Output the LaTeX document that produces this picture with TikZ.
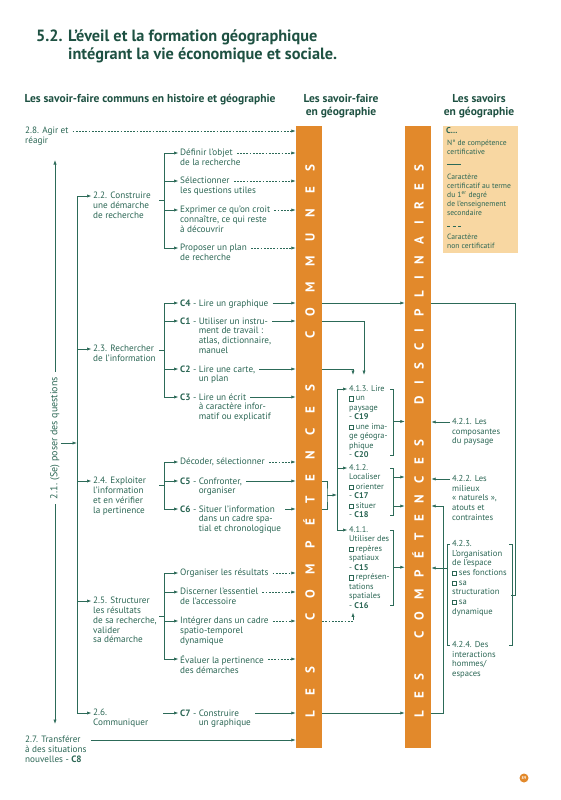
\documentclass[tikz,border=0pt]{standalone}
\usepackage{fontspec}
\setmainfont{PT Sans}
\usetikzlibrary{arrows.meta, calc}

\definecolor{gtext}{HTML}{2B6654}
\definecolor{gtitle}{HTML}{1E5142}
\definecolor{gline}{HTML}{2C6A58}
\definecolor{orng}{HTML}{E2892B}
\definecolor{peach}{HTML}{F8D7A2}

% C number followed by its aligned lines
\newcommand{\citem}[2]{\textbf{#1} - \begin{tabular}[t]{@{}l@{}}#2\end{tabular}}
% small check box
\newcommand{\sqb}{\raisebox{0.1pt}{\setlength{\fboxsep}{0pt}\setlength{\fboxrule}{0.35pt}\fbox{\rule{0pt}{3.8pt}\rule{3.8pt}{0pt}}}\hspace{2.2pt}}

\begin{document}
\begin{tikzpicture}[x=1pt, y=-1pt,
    txt/.style={anchor=north west, align=left, inner sep=0pt, text=gtext, font=\fontsize{9.2}{9.8}\selectfont},
    rtxt/.style={txt, font=\fontsize{8.6}{9.7}\selectfont},
    sm/.style={txt, font=\fontsize{8.3}{9.5}\selectfont},
    lgtxt/.style={txt, font=\fontsize{7.6}{9}\selectfont},
    hdr/.style={align=center, inner sep=0pt, text=gtitle, font=\fontsize{11.5}{12.5}\selectfont\bfseries},
    cbar/.style={fill=orng, minimum width=26pt, minimum height=622pt, inner sep=0pt},
    bartxt/.style={rotate=90, inner sep=0pt, text=white, font=\fontsize{13}{14}\selectfont\bfseries},
    legbox/.style={fill=peach, minimum width=75pt, minimum height=127pt, inner sep=0pt},
    ln/.style={draw=gline, line width=0.7pt},
    arr/.style={ln, -{Latex[length=4.5pt,width=3.2pt]}},
    darr/.style={arr, dash pattern=on 1.8pt off 1.4pt}
  ]
  \useasboundingbox (0,0) rectangle (560,800);

  % Title and column headers
  \node[anchor=north west, inner sep=0pt, text=gtitle, font=\fontsize{16.3}{18}\selectfont\bfseries] (title) at (36,29)
    {\begin{tabular}{@{}l@{ }l@{}}5.2. & L’éveil et la formation géographique\\ & intégrant la vie économique et sociale.\end{tabular}};
  \node[hdr] (hdcom) at (150,100) {Les savoir-faire communs en histoire et géographie};
  \node[hdr] (hdsf) at (341,106) {Les savoir-faire\\en géographie};
  \node[hdr] (hdsav) at (479,106) {Les savoirs\\en géographie};

  % Orange bars
  \node[cbar] (bar1) at (309,437) {};
  \node[cbar] (bar2) at (418,437) {};
  \node[bartxt] (bar1lbl) at (309,441) {\makebox[552pt][s]{L\hfil E\hfil S\hfil\hfil\hfil C\hfil O\hfil M\hfil P\hfil É\hfil T\hfil E\hfil N\hfil C\hfil E\hfil S\hfil\hfil\hfil C\hfil O\hfil M\hfil M\hfil U\hfil N\hfil E\hfil S}};
  \node[bartxt] (bar2lbl) at (418,441) {\makebox[552pt][s]{L\hfil E\hfil S\hfil\hfil\hfil C\hfil O\hfil M\hfil P\hfil É\hfil T\hfil E\hfil N\hfil C\hfil E\hfil S\hfil\hfil\hfil D\hfil I\hfil S\hfil C\hfil I\hfil P\hfil L\hfil I\hfil N\hfil A\hfil I\hfil R\hfil E\hfil S}};

  % Legend
  \node[legbox] (legend) at (480.5,189.5) {};
  \node[txt, font=\fontsize{8.5}{9.8}\selectfont\bfseries] (lgc) at (446,127) {C...};
  \node[lgtxt] (lgn) at (447,140) {N° de compétence\\certificative};
  \node[lgtxt] (lgs) at (447,174) {Caractère\\certificatif au terme\\du 1\textsuperscript{er} degré\\de l’enseignement\\secondaire};
  \node[lgtxt] (lgd) at (447,234) {Caractère\\non certificatif};
  \draw[gline, line width=1pt] ([yshift=-10pt]lgn.south west) -- ++(14,0);
  \draw[gline, line width=1pt, dash pattern=on 3pt off 2.5pt] ([yshift=-11pt]lgs.south west) -- ++(14,0);

  % Left column: savoir-faire communs
  \node[txt] (a28) at (25,127) {2.8. Agir et\\réagir};
  \node[txt, anchor=center, rotate=90, inner xsep=5pt, inner ysep=1pt, font=\fontsize{10}{11}\selectfont] (a21) at (55,438) {2.1. (Se) poser des questions};
  \node[txt] (a22) at (93,192) {2.2. Construire\\une démarche\\de recherche};
  \node[txt] (a23) at (93,345) {2.3. Rechercher\\de l’information};
  \node[txt] (a24) at (93,477) {2.4. Exploiter\\l’information\\et en vérifier\\la pertinence};
  \node[txt] (a25) at (93,597) {2.5. Structurer\\les résultats\\de sa recherche,\\valider\\sa démarche};
  \node[txt] (a26) at (93,709) {2.6.\\Communiquer};
  \node[txt] (a27) at (25,736) {2.7. Transférer\\à des situations\\nouvelles - \textbf{C8}};

  % Sub-items
  \node[txt] (s1) at (180,149) {Définir l’objet\\\rlap{de la recherche}};
  \node[txt] (s2) at (180,177) {Sélectionner\\\rlap{les questions utiles}};
  \node[txt] (s3) at (180,206) {Exprimer ce qu’on croit\\connaître, ce qui reste\\à découvrir};
  \node[txt] (s4) at (180,244) {Proposer un plan\\de recherche};
  \node[txt] (c4) at (180,299) {\citem{C4}{Lire un graphique}};
  \node[txt] (c1) at (180,317) {\citem{C1}{Utiliser un instru-\\\rlap{ment de travail :}\\\rlap{atlas, dictionnaire,}\\\rlap{manuel}}};
  \node[txt] (c2) at (180,365) {\citem{C2}{Lire une carte,\\un plan}};
  \node[txt] (c3) at (180,393) {\citem{C3}{Lire un écrit\\\rlap{à caractère infor-}\\\rlap{matif ou explicatif}}};
  \node[txt] (dec) at (180,458) {Décoder, sélectionner};
  \node[txt] (c5) at (180,477) {\citem{C5}{Confronter,\\organiser}};
  \node[txt] (c6) at (180,505) {\citem{C6}{Situer l’information\\dans un cadre spa-\\tial et chronologique}};
  \node[txt] (org) at (180,569) {Organiser les résultats};
  \node[txt] (dis) at (180,588) {Discerner l’essentiel\\de l’accessoire};
  \node[txt] (integ) at (180,617) {Intégrer dans un cadre\\spatio-temporel\\dynamique};
  \node[txt] (eval) at (180,655) {Évaluer la pertinence\\des démarches};
  \node[txt] (c7) at (180,709) {\citem{C7}{Construire\\un graphique}};

  % Savoir-faire en géographie
  \node[sm] (g413) at (349,385) {4.1.3. Lire\\\sqb un\\paysage\\- \textbf{C19}\\\sqb une ima-\\ge géogra-\\phique\\- \textbf{C20}};
  \node[sm] (g412) at (349,464) {4.1.2.\\Localiser\\\sqb orienter\\- \textbf{C17}\\\sqb situer\\- \textbf{C18}};
  \node[sm] (g411) at (349,526) {4.1.1.\\Utiliser des\\\sqb repères\\spatiaux\\- \textbf{C15}\\\sqb représen-\\tations\\spatiales\\- \textbf{C16}};

  % Savoirs en géographie
  \node[rtxt] (r421) at (452,418) {4.2.1. Les\\composantes\\du paysage};
  \node[rtxt] (r422) at (452,475) {4.2.2. Les\\milieux\\«~naturels~»,\\atouts et\\contraintes};
  \node[rtxt] (r423) at (452,540) {4.2.3.\\L’organisation\\de l’espace\\\sqb ses fonctions\\\sqb sa\\structuration\\\sqb sa\\dynamique};
  \node[rtxt] (r424) at (452,641) {4.2.4. Des\\interactions\\hommes/\\espaces};

  % Guide coordinates
  \coordinate (spine) at (77,0);
  \coordinate (brk) at (164,0);
  \coordinate (lb) at (337,0);
  \coordinate (rb) at (393,0);
  \coordinate (lb2) at (447,0);
  \coordinate (rb2) at (512,0);
  \coordinate (k422) at (443,0);
  \coordinate (k56) at (327,495);
  \coordinate (rr) at (515,595);
  \coordinate (q21top) at (55,160);
  \coordinate (q21bot) at (55,724);
  \coordinate (t1) at ([xshift=15pt,yshift=10pt]g413.north west);
  \coordinate (t2) at ([xshift=4pt,yshift=10pt]g413.north west);
  \coordinate (t3) at ([xshift=4pt,yshift=-4pt]g411.south west);

  % 2.1 line
  \draw[arr] (a21.east) -- (q21top);
  \draw[arr] (a21.west) -- (q21bot);
  \draw[arr] ([yshift=-5pt]a21.south) -- ([yshift=-5pt]a21.south -| spine);

  % Spine to 2.2 ... 2.6
  \draw[ln] ([yshift=-4pt]a22.north west -| spine) -- ([yshift=-4pt]a26.north west -| spine);
  \foreach \n in {a22,a23,a24,a25,a26}
    \draw[arr] ([yshift=-4pt]\n.north west -| spine) -- ([xshift=-1.5pt,yshift=-4pt]\n.north west);

  % Brackets to sub-items
  \foreach \t/\b in {s1/s4, c4/c3, dec/c6, org/eval} {
    \coordinate (gt) at ([yshift=-4pt]\t.north west -| brk);
    \coordinate (gb) at ([yshift=-4pt]\b.north west -| brk);
    \draw[ln] (gt) -- (gb);
    \draw[ln] ($(gt)!0.5!(gb)$) -- ++(-5,0);
  }
  \foreach \n in {s1,s2,s3,s4,c4,c1,c2,c3,dec,c5,c6,org,dis,integ,eval}
    \draw[arr] ([yshift=-4pt]\n.north west -| brk) -- ([xshift=-1.5pt,yshift=-4pt]\n.north west);
  \draw[arr] ([xshift=-1pt,yshift=-4pt]c7.north west -| brk) -- ([xshift=-1.5pt,yshift=-4pt]c7.north west);

  % Into the first bar
  \foreach \n in {c4,c1,c2,c3,c5,c6,c7,a27}
    \draw[arr] ([xshift=4pt,yshift=-4pt]\n.north east) -- ([yshift=-4pt]\n.north east -| bar1.west);
  \foreach \n in {a28,s1,s2,s3,s4,dec,org,dis,integ,eval}
    \draw[darr] ([xshift=4pt,yshift=-4pt]\n.north east) -- ([yshift=-4pt]\n.north east -| bar1.west);

  % Between the bars
  \draw[arr] ([yshift=-4pt]c4.north east -| bar1.east) -- ([yshift=-4pt]c4.north east -| bar2.west);
  \draw[arr] ([yshift=-4pt]c1.north east -| bar1.east) -| (t1);
  \draw[arr] ([yshift=-4pt]c2.north east -| bar1.east) -| (t2);
  \draw[ln] ([yshift=-4pt]c5.north east -| bar1.east) -| (k56) |- ([yshift=-4pt]c6.north east -| bar1.east);
  \draw[arr] (k56) -- (k56 -| lb);
  \draw[darr] ([yshift=-4pt]integ.north east -| bar1.east) -| (t3);
  \draw[arr] ([yshift=-4pt]c7.north east -| bar1.east) -- ([yshift=-4pt]c7.north east -| bar2.west);

  % 4.1 brackets
  \draw[ln] ([yshift=-4pt]g413.north west -| lb) -- ([yshift=-4pt]g411.north west -| lb);
  \foreach \n in {g413,g412,g411} {
    \draw[arr] ([yshift=-4pt]\n.north west -| lb) -- ([xshift=-1.5pt,yshift=-4pt]\n.north west);
    \draw[ln] ([xshift=-3pt,yshift=-4pt]\n.north -| rb) -- ([yshift=-4pt]\n.north -| rb)
      -- ([yshift=3pt]\n.south -| rb) -- ([xshift=-3pt,yshift=3pt]\n.south -| rb);
  }
  \draw[arr] (g413.east -| rb) -- (g413.east -| bar2.west);
  \draw[arr] ([yshift=-13pt]g412.north -| rb) -- ([yshift=-13pt]g412.north -| bar2.west);
  \draw[arr] ([yshift=-42pt]g412.north -| rb) -- ([yshift=-42pt]g412.north -| bar2.west);
  \draw[arr] (g411.east -| rb) -- (g411.east -| bar2.west);

  % Right of the second bar
  \draw[ln] ([yshift=-4pt]c4.north east -| bar2.east) -| (rr) -- ++(-4,0);
  \foreach \n in {r421,r422}
    \draw[arr] ([xshift=-2pt,yshift=-4pt]\n.north west) -- ([yshift=-4pt]\n.north west -| bar2.east);
  \draw[arr] ([yshift=-4pt]c7.north east -| bar2.east) -| ([yshift=-31pt]r422.north west -| k422)
    -- ([yshift=-31pt]r422.north west -| bar2.east);
  \draw[ln] ([xshift=3pt,yshift=-4pt]r423.north west -| lb2) -- ([yshift=-4pt]r423.north west -| lb2)
    -- ([yshift=-4pt]r424.north west -| lb2) -- ([xshift=3pt,yshift=-4pt]r424.north west -| lb2);
  \draw[ln] ([xshift=-3pt,yshift=-4pt]r423.north west -| rb2) -- ([yshift=-4pt]r423.north west -| rb2)
    -- ([yshift=-4pt]r424.north west -| rb2) -- ([xshift=-3pt,yshift=-4pt]r424.north west -| rb2);
  \draw[arr] ([yshift=-28pt]r423.north west -| lb2) -- ([yshift=-28pt]r423.north west -| bar2.east);

  % Page number
  \node[circle, fill=orng, inner sep=0.5pt, minimum size=9pt, text=white, font=\fontsize{4}{4}\selectfont\bfseries] (pg) at (524,778) {89};
\end{tikzpicture}
\end{document}
